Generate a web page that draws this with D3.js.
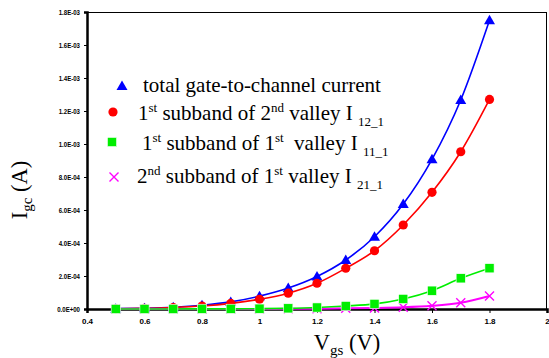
<!DOCTYPE html>
<html lang="en">
<head>
<meta charset="UTF-8">
<title>Igc vs Vgs</title>
<script src="https://d3js.org/d3.v7.min.js"></script>
<style>
  body { margin: 0; background: #fff; }
  .tick text { font-family: Arial, "Liberation Sans", sans-serif; font-weight: bold; fill: #000; }
  .ttl, .leg { font-family: "Liberation Serif", "Times New Roman", serif; fill: #000; }
</style>
</head>
<body>
<svg width="549" height="358"></svg>
<script>
// gate voltage (V)
const vgs = [0.5, 0.6, 0.7, 0.8, 0.9, 1.0, 1.1, 1.2, 1.3, 1.4, 1.5, 1.6, 1.7, 1.8];
// currents (A)
const total = [2e-6, 5e-6, 1.1e-5, 2.3e-5, 4.3e-5, 7.8e-5, 1.27e-4, 1.97e-4, 2.97e-4, 4.38e-4, 6.36e-4, 9.07e-4, 1.267e-3, 1.75e-3];
const i12 = [1.5e-6, 4e-6, 9e-6, 1.8e-5, 3.4e-5, 5.9e-5, 9.6e-5, 1.56e-4, 2.47e-4, 3.53e-4, 5.09e-4, 7.07e-4, 9.53e-4, 1.27e-3];
const i11 = [0, 0, 0, 1e-6, 1e-6, 2e-6, 4e-6, 9e-6, 1.8e-5, 3.1e-5, 6.1e-5, 1.11e-4, 1.86e-4, 2.47e-4];
const i21 = [0, 0, 0, 0, 0, 0, 1e-6, 2e-6, 4e-6, 6e-6, 1e-5, 1.9e-5, 3.8e-5, 7.9e-5];

const xTicks = [0.4, 0.6, 0.8, 1.0, 1.2, 1.4, 1.6, 1.8, 2.0];
const yTicks = [0, 2e-4, 4e-4, 6e-4, 8e-4, 1e-3, 1.2e-3, 1.4e-3, 1.6e-3, 1.8e-3];

// legend text pieces: [text, kind]  kind: "" normal, "sup", "sub"
const legendLabels = [
  [["total gate-to-channel current", ""]],
  [["1", ""], ["st", "sup"], [" subband of 2", ""], ["nd", "sup"], [" valley I ", ""], ["12_1", "sub"]],
  [["1", ""], ["st", "sup"], [" subband of 1", ""], ["st", "sup"], ["\u00a0 valley I ", ""], ["11_1", "sub"]],
  [["2", ""], ["nd", "sup"], [" subband of 1", ""], ["st", "sup"], [" valley I ", ""], ["21_1", "sub"]]
];

const series = [
  { vals: total, color: "#0000ff", mark: "tri", width: 1.6 },
  { vals: i12, color: "#ff0000", mark: "circ", width: 1.6 },
  { vals: i21, color: "#ff00ff", mark: "cross", width: 2 },
  { vals: i11, color: "#00ee00", mark: "sq", width: 1.6 }
];

const svg = d3.select("svg");
const L = 87, R = 547, T = 12, B = 309;

const x = d3.scaleLinear().domain([0.4, 2]).range([L, R]);
const y = d3.scaleLinear().domain([0, 1.8e-3]).range([B, T]);

const fmtE = v => {
  const [m, e] = v.toExponential(1).split("e");
  const n = Math.abs(+e);
  return m + "E" + (+e < 0 ? "-" : "+") + (n < 10 ? "0" + n : n);
};

// frame
svg.append("line").attr("x1", L).attr("x2", R).attr("y1", T + 0.5).attr("y2", T + 0.5).attr("stroke", "#000").attr("stroke-width", 1);
svg.append("line").attr("x1", R - 0.5).attr("x2", R - 0.5).attr("y1", T).attr("y2", B).attr("stroke", "#000").attr("stroke-width", 1);

const gx = svg.append("g").attr("transform", `translate(0,${B})`)
  .call(d3.axisBottom(x).tickValues(xTicks).tickSize(4).tickPadding(5).tickFormat(d3.format("~g")));
gx.select(".domain").attr("stroke-width", 2.5);
gx.selectAll(".tick line").attr("stroke-width", 1);
gx.selectAll(".tick text").style("font-size", "8px");

const gy = svg.append("g").attr("transform", `translate(${L},0)`)
  .call(d3.axisLeft(y).tickValues(yTicks).tickSize(3).tickPadding(4).tickFormat(fmtE));
gy.select(".domain").attr("stroke-width", 2.5);
gy.selectAll(".tick text").style("font-size", "8px")
  .each(function () {
    const w = this.getComputedTextLength();
    d3.select(this).attr("textLength", w * 0.76).attr("lengthAdjust", "spacingAndGlyphs");
  });

// curves
const line = d3.line().x(d => x(d[0])).y(d => y(d[1])).curve(d3.curveMonotoneX);

function marker(g, kind, color) {
  if (kind === "tri") {
    g.append("path").attr("d", "M0,-5.5L5.5,4L-5.5,4Z").attr("fill", color);
  } else if (kind === "circ") {
    g.append("circle").attr("r", 4.6).attr("fill", color);
  } else if (kind === "sq") {
    g.append("rect").attr("x", -4.6).attr("y", -4.6).attr("width", 9.2).attr("height", 9.2)
      .attr("fill", color).attr("stroke", "#fff").attr("stroke-width", 0.6);
  } else {
    g.append("path").attr("d", "M-4.5,-4.5L4.5,4.5M-4.5,4.5L4.5,-4.5")
      .attr("stroke", color).attr("stroke-width", 1.4).attr("fill", "none");
  }
}

series.forEach(s => {
  const pts = vgs.map((v, i) => [v, s.vals[i]]);
  svg.append("path").datum(pts).attr("d", line)
    .attr("fill", "none").attr("stroke", s.color).attr("stroke-width", s.width);
  pts.forEach(p => {
    const g = svg.append("g").attr("transform", `translate(${x(p[0])},${y(p[1])})`);
    marker(g, s.mark, s.color);
  });
});

// legend
const legendOrder = [0, 1, 3, 2];
const legRows = [
  { my: 86, mx: 122, tx: 143, ty: 92 },
  { my: 112, mx: 113, tx: 138, ty: 120 },
  { my: 142, mx: 112, tx: 142, ty: 150 },
  { my: 177, mx: 114, tx: 137, ty: 183 }
];
legendLabels.forEach((parts, i) => {
  const r = legRows[i];
  const s = series[legendOrder[i]];
  const mg = svg.append("g").attr("transform", `translate(${r.mx},${r.my})`);
  marker(mg, s.mark, s.color);
  const t = svg.append("text").attr("class", "leg").attr("x", r.tx).attr("y", r.ty).style("font-size", "21px");
  let shift = 0;
  parts.forEach(([txt, kind]) => {
    const target = kind === "sup" ? -8 : kind === "sub" ? 6 : 0;
    t.append("tspan").attr("dy", target - shift)
      .style("font-size", kind ? "13px" : "21px").text(txt);
    shift = target;
  });
});

// axis titles
const xt = svg.append("text").attr("class", "ttl").attr("x", 347).attr("y", 350)
  .attr("text-anchor", "middle").style("font-size", "22.5px");
xt.append("tspan").text("V");
xt.append("tspan").attr("dy", 5).style("font-size", "15px").text("gs");
xt.append("tspan").attr("dy", -5).text(" (V)");

const yt = svg.append("text").attr("class", "ttl")
  .attr("transform", "translate(27,190) rotate(-90)")
  .attr("text-anchor", "middle").style("font-size", "22.5px");
yt.append("tspan").text("I");
yt.append("tspan").attr("dy", 5).style("font-size", "15px").text("gc");
yt.append("tspan").attr("dy", -5).text(" (A)");
</script>
</body>
</html>
